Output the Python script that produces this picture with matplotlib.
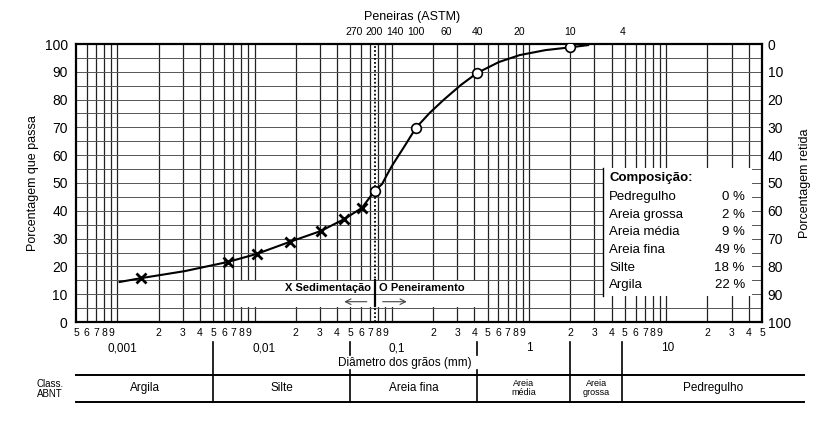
import numpy as np
import matplotlib.pyplot as plt
from matplotlib.patches import Rectangle

plt.rcParams['font.family'] = ['Liberation Sans', 'DejaVu Sans']

# ensaio de sedimentacao (X) e peneiramento (O)
sed_d = [0.0015, 0.0064, 0.0104, 0.018, 0.0303, 0.0446, 0.0605]
sed_p = [15.8, 21.6, 24.5, 28.8, 32.7, 36.9, 41.0]
pen_d = [0.075, 0.15, 0.42, 2.0]
pen_p = [47.1, 69.8, 89.6, 98.8]

# curva granulometrica
curve_d = [0.00104, 0.0015, 0.0031, 0.0064, 0.0104, 0.018, 0.0303, 0.0446, 0.0605,
           0.075, 0.085, 0.093, 0.1, 0.107, 0.125, 0.15, 0.189, 0.239, 0.32, 0.42,
           0.604, 0.855, 1.32, 2.0, 2.7]
curve_p = [14.4, 15.8, 18.3, 21.6, 24.5, 28.8, 32.7, 36.9, 41.0,
           47.1, 49.6, 53.2, 56.0, 58.3, 63.5, 69.8, 75.2, 79.9, 85.3, 89.6,
           93.5, 96.0, 97.8, 98.8, 99.6]

# peneiras ASTM
sieve_nums = ['270', '200', '140', '100', '60', '40', '20', '10', '4']
sieve_d = [0.053, 0.075, 0.106, 0.15, 0.25, 0.42, 0.85, 2.0, 4.8]

# classificacao ABNT
class_names = ['Argila', 'Silte', 'Areia fina', 'Areia\nmédia', 'Areia\ngrossa', 'Pedregulho']
class_bounds = [0.0005, 0.005, 0.05, 0.42, 2.0, 4.8, 102]

comp_names = ['Pedregulho', 'Areia grossa', 'Areia média', 'Areia fina', 'Silte', 'Argila']
comp_vals = ['0 %', '2 %', '9 %', '49 %', '18 %', '22 %']

decade_labels = ['0,001', '0,01', '0,1', '1', '10']
decade_x = [0.00109, 0.0118, 0.108, 1.0, 10.2]

fig = plt.figure(figsize=(8.22, 4.22), dpi=100)
ax = fig.add_axes([76/822, 1-322/422, 686/822, 278/422])
ax.set_xscale('log')
ax.set_xlim(0.0005, 50)
ax.set_ylim(0, 100)

# grade
minor = []
for e in range(-4, 2):
    for m in range(1, 10):
        v = m * 10.0**e
        if 0.0005 < v < 50:
            minor.append(v)
for v in minor:
    ax.axvline(v, color='#222222', lw=0.9, zorder=1)
for p in range(5, 100, 5):
    ax.axhline(p, color='#555555', lw=0.7, zorder=1)
ax.axvline(0.075, color='black', lw=1.3, ls=(0, (1, 1.2)), zorder=2)

for s in ax.spines.values():
    s.set_linewidth(1.6)

ax.set_yticks(range(0, 101, 10))
ax.tick_params(axis='y', length=0, labelsize=10, pad=6)
ax.set_xticks([])
ax.set_xticks([], minor=True)
ax.set_ylabel('Porcentagem que passa', fontsize=9)

ax2 = ax.twinx()
ax2.set_ylim(100, 0)
ax2.set_yticks(range(0, 101, 10))
ax2.tick_params(axis='y', length=0, labelsize=10, pad=4)
ax2.set_ylabel('Porcentagem retida', fontsize=9, labelpad=6)
for s in ax2.spines.values():
    s.set_visible(False)

# curva e pontos
ax.plot(curve_d, curve_p, color='black', lw=1.5, zorder=5)
ax.plot(sed_d, sed_p, 'x', color='black', ms=7, mew=2, zorder=6)
ax.plot(pen_d, pen_p, 'o', mfc='white', mec='black', ms=7, mew=1.2, zorder=6)

# legenda de ensaio
ax.add_patch(Rectangle((0.0072, 5.3), 0.41-0.0072, 9.5, facecolor='white',
                       edgecolor='none', zorder=3))
ax.plot([0.0072, 0.41], [10, 10], color='#555555', lw=0.7, zorder=3)
ax.text(0.0705, 10.6, 'X Sedimentação', ha='right', va='bottom', fontsize=8,
        fontweight='bold', zorder=7)
ax.text(0.0805, 10.6, 'O Peneiramento', ha='left', va='bottom', fontsize=8,
        fontweight='bold', zorder=7)
ax.plot([0.075, 0.075], [5.8, 15], color='black', lw=1.6, zorder=7)
ax.annotate('', xy=(0.043, 7.3), xytext=(0.069, 7.3),
            arrowprops=dict(arrowstyle='->', lw=0.8, color='#444444'), zorder=7)
ax.annotate('', xy=(0.135, 7.3), xytext=(0.082, 7.3),
            arrowprops=dict(arrowstyle='->', lw=0.8, color='#444444'), zorder=7)

# quadro de composicao
ax.add_patch(Rectangle((3.44, 9.4), 42 - 3.44, 46, facecolor='white',
                       edgecolor='none', zorder=3))
ax.plot([3.44, 3.44], [9.4, 55.4], color='black', lw=1.0, zorder=4)
ax.text(3.85, 51.8, 'Composição:', fontsize=9.5, fontweight='bold', va='center', zorder=7)
for i, (n, v) in enumerate(zip(comp_names, comp_vals)):
    yy = 45.0 - 6.35 * i
    ax.text(3.85, yy, n, fontsize=9.5, va='center', zorder=7)
    ax.text(37.5, yy, v, fontsize=9.5, va='center', ha='right', zorder=7)

# eixo x inferior
tr = ax.get_xaxis_transform()
for v in [0.0005] + minor + [50]:
    m = int(round(v / 10.0**np.floor(np.log10(v) + 1e-9)))
    if m == 1:
        continue
    ax.text(v, -0.038, str(m), transform=tr, ha='center', va='center',
            fontsize=7.5, clip_on=False)
for lab, xv in zip(decade_labels, decade_x):
    ax.text(xv, -0.095, lab, transform=tr, ha='center', va='center',
            fontsize=8.5, clip_on=False)
ax.text(0.125, -0.148, 'Diâmetro dos grãos (mm)', transform=tr, ha='center',
        va='center', fontsize=8.5, clip_on=False)

# faixa de classificacao ABNT
y_top, y_bot = -0.19, -0.288
for yy in (y_top, y_bot):
    ax.plot([0.0005, 102], [yy, yy], transform=tr, color='black', lw=1.4, clip_on=False)
for b in class_bounds[1:-1]:
    if b in (0.05, 0.42):
        ax.plot([b, b], [-0.072, -0.118], transform=tr, color='black', lw=1.2, clip_on=False)
        ax.plot([b, b], [-0.172, y_bot], transform=tr, color='black', lw=1.2, clip_on=False)
    else:
        ax.plot([b, b], [-0.072, y_bot], transform=tr, color='black', lw=1.2, clip_on=False)
for i, n in enumerate(class_names):
    xc = np.sqrt(class_bounds[i] * class_bounds[i + 1])
    fs = 6.5 if '\n' in n else 8.5
    ax.text(xc, (y_top + y_bot) / 2, n, transform=tr, ha='center', va='center',
            fontsize=fs, clip_on=False, linespacing=1.0)
fig.text(50/822, 1 - 389/422, 'Class.\nABNT', ha='center', va='center',
         fontsize=7, linespacing=1.0)

# peneiras no topo
for n, d in zip(sieve_nums, sieve_d):
    ax.text(d, 1.025, n, transform=tr, ha='center', va='bottom', fontsize=7.5,
            clip_on=False)
fig.text(412/822, 1 - 17/422, 'Peneiras (ASTM)', ha='center', va='center', fontsize=9)

fig.savefig('out.png', dpi=100)
